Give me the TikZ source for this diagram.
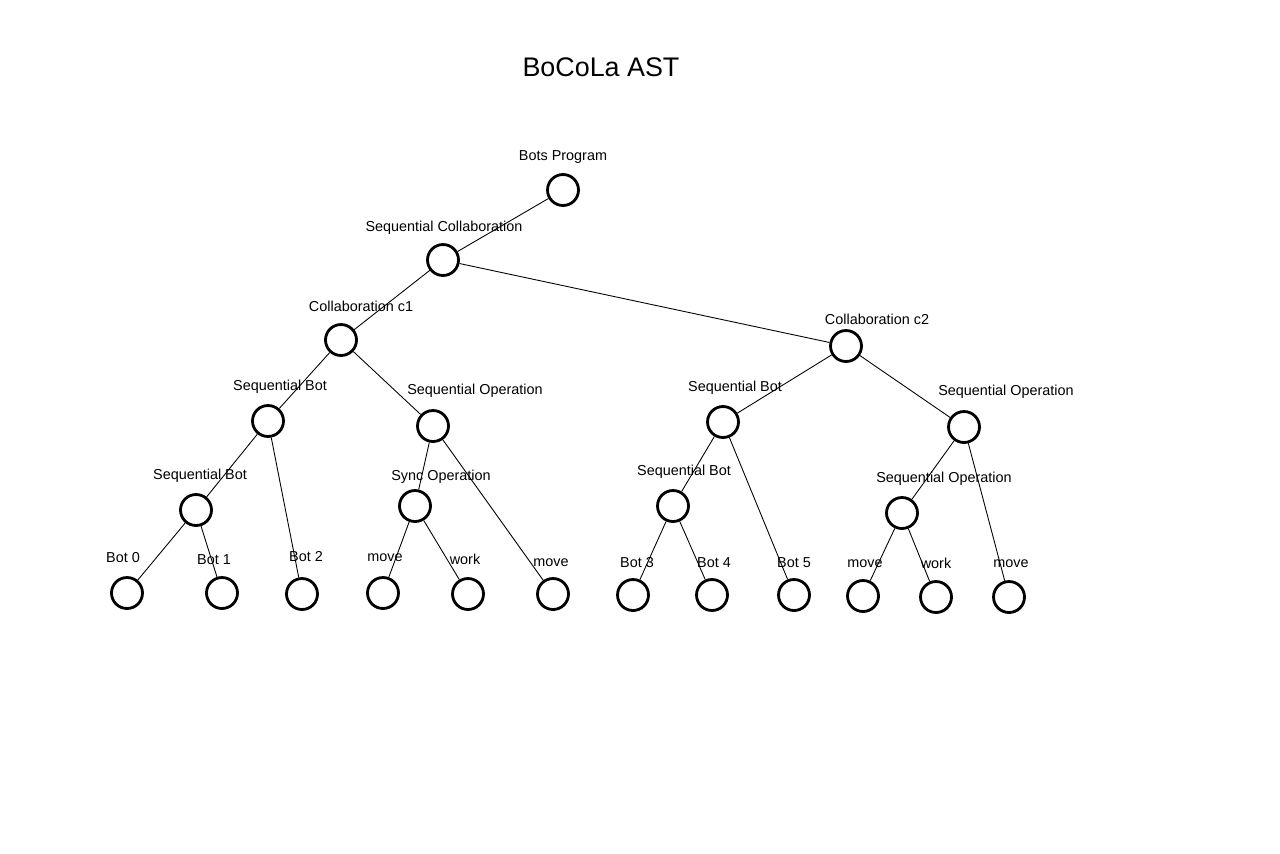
\documentclass[tikz,border=0pt]{standalone}
\usepackage{fontspec}
\setmainfont{Liberation Sans}
\usetikzlibrary{positioning}

\begin{document}
\begin{tikzpicture}[x=0.02cm, y=-0.02cm,
    vert/.style={draw, circle, line width=1.6pt, minimum size=0.62cm, inner sep=0pt},
    lbl/.style={font=\fontsize{8.2}{10}\selectfont, inner sep=0pt, yshift=-1.5pt},
    edge/.style={line width=0.5pt}]
			% Page
			\useasboundingbox[fill=white] (0,0) rectangle (1280,853);
			\node[font=\fontsize{15.3}{18}\selectfont, inner sep=0pt] (title) at (601,67) {BoCoLa AST};

			% Upper levels
			\node[vert] (root) at (563,190) {};
			\node[vert] (seqcol) at (443,260) {};
			\node[vert] (colA) at (341,340) {};
			\node[vert] (colB) at (846,346) {};

			\node[lbl] (root-l) at (563,154) {Bots Program};
			\node[lbl] (seqcol-l) at (444,225) {Sequential Collaboration};
			\node[lbl] (colA-l) at (361,304) {Collaboration c1};
			\node[lbl] (colB-l) at (877,317) {Collaboration c2};

			% Left collaboration
			\node[vert] (sbotA) at (268,421) {};
			\node[vert] (sopA) at (433,426) {};
			\node[vert] (sbotB) at (196,510) {};
			\node[vert] (sync) at (415,506) {};

			\node[lbl] (sbotA-l) at (280,384) {Sequential Bot};
			\node[lbl] (sopA-l) at (475,388) {Sequential Operation};
			\node[lbl] (sbotB-l) at (200,473) {Sequential Bot};
			\node[lbl] (sync-l) at (441,474) {Sync Operation};

			\node[vert] (bot0) at (127,593) {};
			\node[vert] (bot1) at (222,593) {};
			\node[vert] (bot2) at (302,594) {};
			\node[vert] (mvA) at (383,593) {};
			\node[vert] (wkA) at (468,594) {};
			\node[vert] (mvB) at (553,594) {};

			\node[lbl] (bot0-l) at (123,555) {Bot 0};
			\node[lbl] (bot1-l) at (214,557) {Bot 1};
			\node[lbl] (bot2-l) at (306,554) {Bot 2};
			\node[lbl] (mvA-l) at (385,555) {move};
			\node[lbl] (wkA-l) at (465,557) {work};
			\node[lbl] (mvB-l) at (551,560) {move};

			% Right collaboration
			\node[vert] (sbotC) at (723,422) {};
			\node[vert] (sopB) at (964,427) {};
			\node[vert] (sbotD) at (673,506) {};
			\node[vert] (sopC) at (902,513) {};

			\node[lbl] (sbotC-l) at (735,385) {Sequential Bot};
			\node[lbl] (sopB-l) at (1006,389) {Sequential Operation};
			\node[lbl] (sbotD-l) at (684,469) {Sequential Bot};
			\node[lbl] (sopC-l) at (944,476) {Sequential Operation};

			\node[vert] (bot3) at (633,595) {};
			\node[vert] (bot4) at (712,595) {};
			\node[vert] (bot5) at (794,595) {};
			\node[vert] (mvC) at (863,596) {};
			\node[vert] (wkB) at (936,597) {};
			\node[vert] (mvD) at (1009,597) {};

			\node[lbl] (bot3-l) at (637,560) {Bot 3};
			\node[lbl] (bot4-l) at (714,560) {Bot 4};
			\node[lbl] (bot5-l) at (794,560) {Bot 5};
			\node[lbl] (mvC-l) at (865,561) {move};
			\node[lbl] (wkB-l) at (936,561) {work};
			\node[lbl] (mvD-l) at (1011,561) {move};

			% Draw the edges
			\draw[edge] (root) -- (seqcol);
			\draw[edge] (seqcol) -- (colA);
			\draw[edge] (seqcol) -- (colB);
			\draw[edge] (colA) -- (sbotA);
			\draw[edge] (colA) -- (sopA);
			\draw[edge] (sbotA) -- (sbotB);
			\draw[edge] (sbotA) -- (bot2);
			\draw[edge] (sbotB) -- (bot0);
			\draw[edge] (sbotB) -- (bot1);
			\draw[edge] (sopA) -- (sync);
			\draw[edge] (sopA) -- (mvB);
			\draw[edge] (sync) -- (mvA);
			\draw[edge] (sync) -- (wkA);
			\draw[edge] (colB) -- (sbotC);
			\draw[edge] (colB) -- (sopB);
			\draw[edge] (sbotC) -- (sbotD);
			\draw[edge] (sbotC) -- (bot5);
			\draw[edge] (sbotD) -- (bot3);
			\draw[edge] (sbotD) -- (bot4);
			\draw[edge] (sopB) -- (sopC);
			\draw[edge] (sopB) -- (mvD);
			\draw[edge] (sopC) -- (mvC);
			\draw[edge] (sopC) -- (wkB);

		\end{tikzpicture}
\end{document}
